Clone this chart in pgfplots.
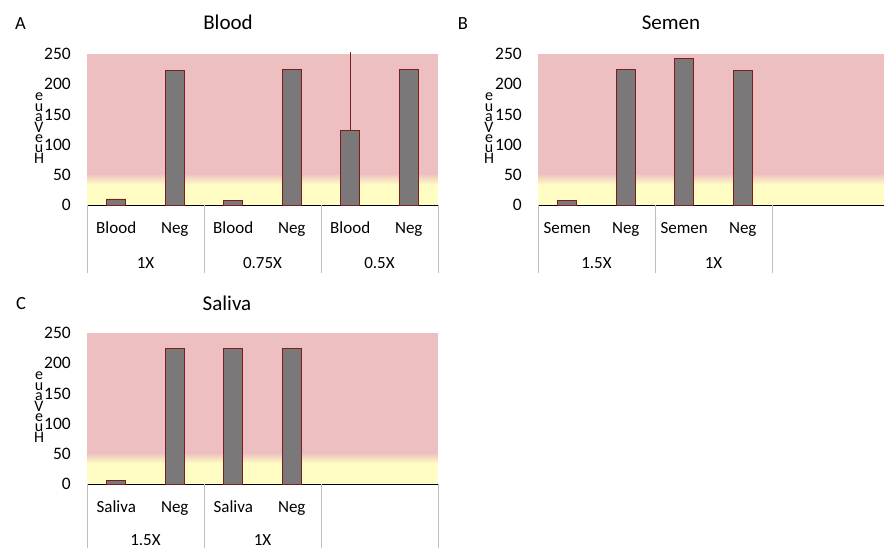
\documentclass[border=0pt]{standalone}
\usepackage{pgfplots}
\pgfplotsset{compat=1.18}
\usepackage{fontspec}
\setmainfont{Carlito}
\definecolor{pinkbg}{RGB}{237,191,192}
\definecolor{yellowbg}{RGB}{255,252,196}
\definecolor{barfill}{RGB}{122,120,120}
\definecolor{baredge}{RGB}{125,30,30}
\definecolor{sepgray}{RGB}{190,190,190}
\definecolor{baseline}{RGB}{222,230,160}
\pgfplotsset{
  panel/.style={
    scale only axis, width=351pt, height=151pt,
    ymin=0, ymax=250, ytick={0,50,...,250},
    xmin=-0.5, xmax=5.5,
    axis line style={draw=none}, tick style={draw=none}, major tick length=0pt,
    clip=false,
    /pgf/number format/assume math mode=true,
    yticklabel style={font=\fontsize{17.5}{20}\selectfont, anchor=east, inner sep=0pt, xshift=-16pt},
    xticklabel style={font=\fontsize{17}{20}\selectfont, anchor=base, inner sep=0pt, yshift=-28pt},
  },
  bars/.style={ybar, bar width=19pt, bar shift=0pt, fill=barfill, draw=baredge, line width=0.7pt},
}
\newcommand{\bg}[1]{%
  \fill[pinkbg] (axis cs:-0.5,52) rectangle (axis cs:#1,250);
  \shade[bottom color=yellowbg, top color=pinkbg] (axis cs:-0.5,34) rectangle (axis cs:#1,52.2);
  \fill[yellowbg] (axis cs:-0.5,0) rectangle (axis cs:#1,34.2);
  \draw[baseline, line width=0.8pt] (axis cs:-0.5,0) -- (axis cs:#1,0);
}
\newcommand{\sep}[1]{\draw[sepgray, line width=0.8pt] (axis cs:#1,0) -- ++(0pt,-68pt);}
\newcommand{\grp}[3][-63pt]{\node[anchor=base, inner sep=0pt, font=\fontsize{17}{20}\selectfont, yshift=#1] at (axis cs:#2,0) {#3};}
\begin{document}
\begin{tikzpicture}
\path[use as bounding box] (0,0) rectangle (884pt,-548pt);
% Panel A
\begin{axis}[panel, at={(87pt,-205pt)}, anchor=south west,
  xtick={0,...,5}, xticklabels={Blood,Neg,Blood,Neg,Blood,Neg}]
  \bg{5.5}
  \addplot[bars] coordinates {(0,10) (1,223) (2,8) (3,224) (4,123) (5,224)};
  \addplot[draw=baredge, line width=0.7pt, mark=none,
    error bars/.cd, y dir=plus, y explicit, error mark=none,
    error bar style={draw=baredge, line width=0.7pt}]
    coordinates {(4,123) +- (0,130)};
  \sep{-0.5}\sep{1.5}\sep{3.5}\sep{5.5}
  \grp{0.5}{1X}\grp{2.5}{0.75X}\grp{4.5}{0.5X}
\end{axis}
% Panel B
\begin{axis}[panel, at={(538pt,-205pt)}, anchor=south west,
  width=346pt, xmax=5.415,
  xtick={0,...,3}, xticklabels={Semen,Neg,Semen,Neg}]
  \bg{5.415}
  \addplot[bars] coordinates {(0,7) (1,225) (2,243) (3,223)};
  \sep{-0.5}\sep{1.5}\sep{3.5}
  \grp{0.5}{1.5X}\grp{2.5}{1X}
\end{axis}
% Panel C
\begin{axis}[panel, at={(87pt,-484pt)}, anchor=south west,
  xtick={0,...,3}, xticklabels={Saliva,Neg,Saliva,Neg}]
  \bg{5.5}
  \addplot[bars] coordinates {(0,6) (1,225) (2,224) (3,224)};
  \sep{-0.5}\sep{1.5}\sep{3.5}\sep{5.5}
  \grp[-61pt]{0.5}{1.5X}\grp[-61pt]{2.5}{1X}
\end{axis}
% titles
\node[anchor=base, inner sep=0pt, font=\fontsize{21}{25}\selectfont] at (228pt,-30pt) {Blood};
\node[anchor=base, inner sep=0pt, font=\fontsize{21}{25}\selectfont] at (671pt,-30pt) {Semen};
\node[anchor=base, inner sep=0pt, font=\fontsize{21}{25}\selectfont] at (227pt,-310pt) {Saliva};
% y labels (stacked letters)
\foreach \x/\y in {39/93, 489/93, 39/372}{
  \node[align=center, inner sep=0pt, anchor=north, font=\fontsize{16}{10.4}\selectfont] at (\x pt,-\y pt) {e\\u\\a\\V\\e\\u\\H};
}
% panel letters
\node[font=\fontsize{18.5}{22}\selectfont, inner sep=0pt] at (20.5pt,-23.5pt) {A};
\node[font=\fontsize{18.5}{22}\selectfont, inner sep=0pt] at (463pt,-23.5pt) {B};
\node[font=\fontsize{18.5}{22}\selectfont, inner sep=0pt] at (21pt,-304pt) {C};
\end{tikzpicture}
\end{document}
